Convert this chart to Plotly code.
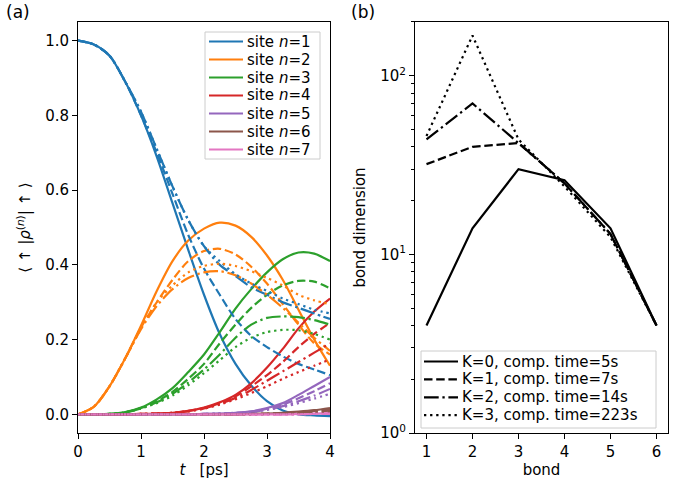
import plotly.graph_objects as go

# ---------------- data ----------------
t = [0.0, 0.25, 0.5, 0.75, 1.0, 1.25, 1.5, 1.75, 2.0, 2.25, 2.5, 2.75, 3.0, 3.25, 3.5, 3.75, 4.0]

# each site: rows are K=0, K=1, K=2, K=3
site1 = [
    [1.0, 0.99, 0.96, 0.89, 0.80, 0.69, 0.565, 0.44, 0.32, 0.215, 0.135, 0.077, 0.035, 0.01, 0.0, -0.003, -0.005],
    [1.0, 0.99, 0.96, 0.89, 0.80, 0.70, 0.59, 0.48, 0.39, 0.32, 0.255, 0.21, 0.18, 0.155, 0.135, 0.12, 0.105],
    [1.0, 0.99, 0.96, 0.89, 0.81, 0.71, 0.61, 0.52, 0.45, 0.40, 0.37, 0.34, 0.32, 0.30, 0.285, 0.27, 0.255],
    [1.0, 0.99, 0.96, 0.89, 0.81, 0.71, 0.61, 0.52, 0.45, 0.41, 0.375, 0.35, 0.33, 0.31, 0.295, 0.28, 0.27],
]
site2 = [
    [0.0, 0.02, 0.075, 0.15, 0.237, 0.33, 0.41, 0.465, 0.497, 0.513, 0.505, 0.475, 0.425, 0.36, 0.28, 0.20, 0.13],
    [0.0, 0.02, 0.075, 0.15, 0.232, 0.30, 0.36, 0.41, 0.437, 0.443, 0.428, 0.395, 0.35, 0.295, 0.24, 0.19, 0.16],
    [0.0, 0.02, 0.075, 0.15, 0.228, 0.29, 0.335, 0.365, 0.38, 0.383, 0.372, 0.35, 0.32, 0.285, 0.245, 0.205, 0.17],
    [0.0, 0.02, 0.075, 0.15, 0.23, 0.30, 0.345, 0.38, 0.397, 0.403, 0.397, 0.383, 0.365, 0.345, 0.32, 0.305, 0.295],
]
site3 = [
    [0.0, 0.0, 0.001, 0.006, 0.018, 0.04, 0.07, 0.113, 0.16, 0.22, 0.283, 0.335, 0.38, 0.415, 0.433, 0.43, 0.41],
    [0.0, 0.0, 0.001, 0.005, 0.017, 0.035, 0.06, 0.095, 0.135, 0.19, 0.24, 0.285, 0.32, 0.345, 0.357, 0.355, 0.337],
    [0.0, 0.0, 0.001, 0.005, 0.016, 0.032, 0.055, 0.085, 0.12, 0.16, 0.205, 0.24, 0.258, 0.262, 0.26, 0.252, 0.24],
    [0.0, 0.0, 0.001, 0.005, 0.016, 0.03, 0.05, 0.078, 0.11, 0.145, 0.18, 0.205, 0.22, 0.226, 0.225, 0.215, 0.2],
]
site4 = [
    [0.0, 0.0, 0.0, 0.0, 0.001, 0.002, 0.004, 0.009, 0.018, 0.032, 0.052, 0.083, 0.125, 0.175, 0.23, 0.275, 0.31],
    [0.0, 0.0, 0.0, 0.0, 0.001, 0.002, 0.004, 0.009, 0.017, 0.03, 0.048, 0.075, 0.105, 0.14, 0.18, 0.215, 0.245],
    [0.0, 0.0, 0.0, 0.0, 0.001, 0.002, 0.004, 0.008, 0.016, 0.028, 0.044, 0.065, 0.09, 0.115, 0.14, 0.165, 0.19],
    [0.0, 0.0, 0.0, 0.0, 0.001, 0.002, 0.004, 0.008, 0.015, 0.026, 0.04, 0.057, 0.075, 0.095, 0.113, 0.13, 0.147],
]
site5 = [
    [0.0, 0.0, 0.0, 0.0, 0.0, 0.0, 0.0, 0.0, 0.001, 0.002, 0.004, 0.008, 0.017, 0.03, 0.052, 0.076, 0.10],
    [0.0, 0.0, 0.0, 0.0, 0.0, 0.0, 0.0, 0.0, 0.001, 0.002, 0.004, 0.007, 0.015, 0.026, 0.043, 0.062, 0.083],
    [0.0, 0.0, 0.0, 0.0, 0.0, 0.0, 0.0, 0.0, 0.001, 0.002, 0.003, 0.006, 0.013, 0.022, 0.035, 0.05, 0.068],
    [0.0, 0.0, 0.0, 0.0, 0.0, 0.0, 0.0, 0.0, 0.001, 0.002, 0.003, 0.006, 0.012, 0.019, 0.03, 0.042, 0.055],
]
site6 = [
    [0.0, 0.0, 0.0, 0.0, 0.0, 0.0, 0.0, 0.0, 0.0, 0.0, 0.0, 0.001, 0.002, 0.004, 0.007, 0.011, 0.017],
    [0.0, 0.0, 0.0, 0.0, 0.0, 0.0, 0.0, 0.0, 0.0, 0.0, 0.0, 0.001, 0.002, 0.003, 0.005, 0.009, 0.013],
    [0.0, 0.0, 0.0, 0.0, 0.0, 0.0, 0.0, 0.0, 0.0, 0.0, 0.0, 0.001, 0.001, 0.002, 0.004, 0.007, 0.010],
    [0.0, 0.0, 0.0, 0.0, 0.0, 0.0, 0.0, 0.0, 0.0, 0.0, 0.0, 0.0, 0.001, 0.002, 0.003, 0.005, 0.008],
]
site7 = [
    [0.0, 0.0, 0.0, 0.0, 0.0, 0.0, 0.0, 0.0, 0.0, 0.0, 0.0, 0.0, 0.0, 0.0, 0.001, 0.002, 0.003],
    [0.0, 0.0, 0.0, 0.0, 0.0, 0.0, 0.0, 0.0, 0.0, 0.0, 0.0, 0.0, 0.0, 0.0, 0.001, 0.001, 0.002],
    [0.0, 0.0, 0.0, 0.0, 0.0, 0.0, 0.0, 0.0, 0.0, 0.0, 0.0, 0.0, 0.0, 0.0, 0.0, 0.001, 0.002],
    [0.0, 0.0, 0.0, 0.0, 0.0, 0.0, 0.0, 0.0, 0.0, 0.0, 0.0, 0.0, 0.0, 0.0, 0.0, 0.001, 0.001],
]
sites = [site1, site2, site3, site4, site5, site6, site7]
site_labels = ["site <i>n</i>=1", "site <i>n</i>=2", "site <i>n</i>=3", "site <i>n</i>=4",
               "site <i>n</i>=5", "site <i>n</i>=6", "site <i>n</i>=7"]

bonds = [1, 2, 3, 4, 5, 6]
bond_dim_K0 = [4, 14, 30, 26, 14, 4]
bond_dim_K1 = [32, 40, 42, 25, 13, 4]
bond_dim_K2 = [44, 70, 42, 25, 13, 4]
bond_dim_K3 = [46, 168, 44, 24, 12.5, 4]
bond_dims = [bond_dim_K0, bond_dim_K1, bond_dim_K2, bond_dim_K3]
k_labels = ["K=0, comp. time=5s", "K=1, comp. time=7s",
            "K=2, comp. time=14s", "K=3, comp. time=223s"]

# ---------------- style ----------------
colors = ["#1f77b4", "#ff7f0e", "#2ca02c", "#d62728", "#9467bd", "#8c564b", "#e377c2"]
dashes = ["solid", "8.5px,3.7px", "14.7px,3.7px,2.3px,3.7px", "2.3px,3.8px"]
FONT = "DejaVu Sans"
FS = 15
W, H = 693, 490
ML, MR, MT, MB = 78, 25, 22, 57
PW, PH = W - ML - MR, H - MT - MB


def px(xp):  # pixel -> paper x
    return (xp - ML) / PW


def py(yp):  # pixel -> paper y
    return (H - MB - yp) / PH


fig = go.Figure()

for k in range(4):
    for s, site in enumerate(sites):
        fig.add_trace(go.Scatter(
            x=t, y=site[k], mode="lines",
            line=dict(color=colors[s], width=2.2, dash=dashes[k], shape="spline", smoothing=0.8),
            name=site_labels[s], showlegend=False,
            xaxis="x", yaxis="y", hoverinfo="skip"))

for k in range(4):
    fig.add_trace(go.Scatter(
        x=bonds, y=bond_dims[k], mode="lines",
        line=dict(color="black", width=2.2, dash=dashes[k]),
        name=k_labels[k], showlegend=False,
        xaxis="x2", yaxis="y2", hoverinfo="skip"))

# ---------------- legends (frame + samples + labels) ----------------
shapes = []
annotations = []


def add_legend(x0, x1, y0, y1, first_y, step, labels, line_colors, line_dashes, sx0, sx1, tx):
    shapes.append(dict(type="rect", xref="paper", yref="paper",
                       x0=px(x0), x1=px(x1), y0=py(y1), y1=py(y0),
                       line=dict(color="#cccccc", width=1),
                       fillcolor="rgba(255,255,255,0.8)", layer="above"))
    for i, lab in enumerate(labels):
        yy = py(first_y + i * step)
        shapes.append(dict(type="line", xref="paper", yref="paper",
                           x0=px(sx0), x1=px(sx1), y0=yy, y1=yy,
                           line=dict(color=line_colors[i], width=2.2, dash=line_dashes[i]),
                           layer="above"))
        annotations.append(dict(text=lab, x=px(tx), y=yy, xref="paper", yref="paper",
                                xanchor="left", yanchor="middle", showarrow=False,
                                font=dict(family=FONT, size=FS, color="black")))


add_legend(205, 320, 32, 159, 41.5, 18.0, site_labels, colors, ["solid"] * 7, 209, 243, 245)
add_legend(421, 656, 351, 428, 361.5, 17.9, k_labels, ["black"] * 4, dashes, 424, 458, 460)

annotations += [
    dict(text="(a)", x=px(4), y=py(12), xref="paper", yref="paper",
         xanchor="left", yanchor="middle", showarrow=False, font=dict(family=FONT, size=17)),
    dict(text="(b)", x=px(349), y=py(12), xref="paper", yref="paper",
         xanchor="left", yanchor="middle", showarrow=False, font=dict(family=FONT, size=17)),
]

axis_common = dict(showline=True, linecolor="black", linewidth=1, mirror=True,
                   ticks="outside", ticklen=5, tickcolor="black", tickwidth=1,
                   showgrid=False, zeroline=False, automargin=False,
                   tickfont=dict(family=FONT, size=FS, color="black"))

fig.update_layout(
    width=W, height=H,
    margin=dict(l=ML, r=MR, t=MT, b=MB),
    paper_bgcolor="white", plot_bgcolor="white",
    font=dict(family=FONT, size=FS, color="black"),
    showlegend=False,
    xaxis=dict(domain=[0, px(330)], range=[0, 4], tickvals=[0, 1, 2, 3, 4],
               ticktext=["0", "1", "2", "3", "4"],
               title=dict(text="<i>t</i>   [ps]", standoff=4, font=dict(size=FS)),
               anchor="y", **axis_common),
    yaxis=dict(domain=[0, 1], range=[-0.05, 1.05], tickvals=[0, 0.2, 0.4, 0.6, 0.8, 1.0],
               ticktext=["0.0", "0.2", "0.4", "0.6", "0.8", "1.0"],
               title=dict(text="⟨ ↑ |<i>ρ</i><sup>(<i>n</i>)</sup>| ↑ ⟩", standoff=10, font=dict(size=FS)),
               anchor="x", **axis_common),
    xaxis2=dict(domain=[px(415), 1], range=[0.75, 6.25], tickvals=bonds,
                ticktext=[str(b) for b in bonds],
                title=dict(text="bond", standoff=4, font=dict(size=FS)),
                anchor="y2", **axis_common),
    yaxis2=dict(domain=[0, 1], type="log", range=[0, 2.301],
                tickvals=[1, 10, 100],
                ticktext=["10<sup>0</sup>", "10<sup>1</sup>", "10<sup>2</sup>"],
                minor=dict(ticks="outside", ticklen=3, tickcolor="black",
                           tickvals=[2, 3, 4, 5, 6, 7, 8, 9, 20, 30, 40, 50, 60, 70, 80, 90, 200]),
                title=dict(text="bond dimension", standoff=10, font=dict(size=FS)),
                anchor="x2", **axis_common),
    shapes=shapes,
    annotations=annotations,
)

fig.write_html("out.html", config={"displayModeBar": False},
               post_script="document.body.style.margin='0';document.body.style.padding='0';")
